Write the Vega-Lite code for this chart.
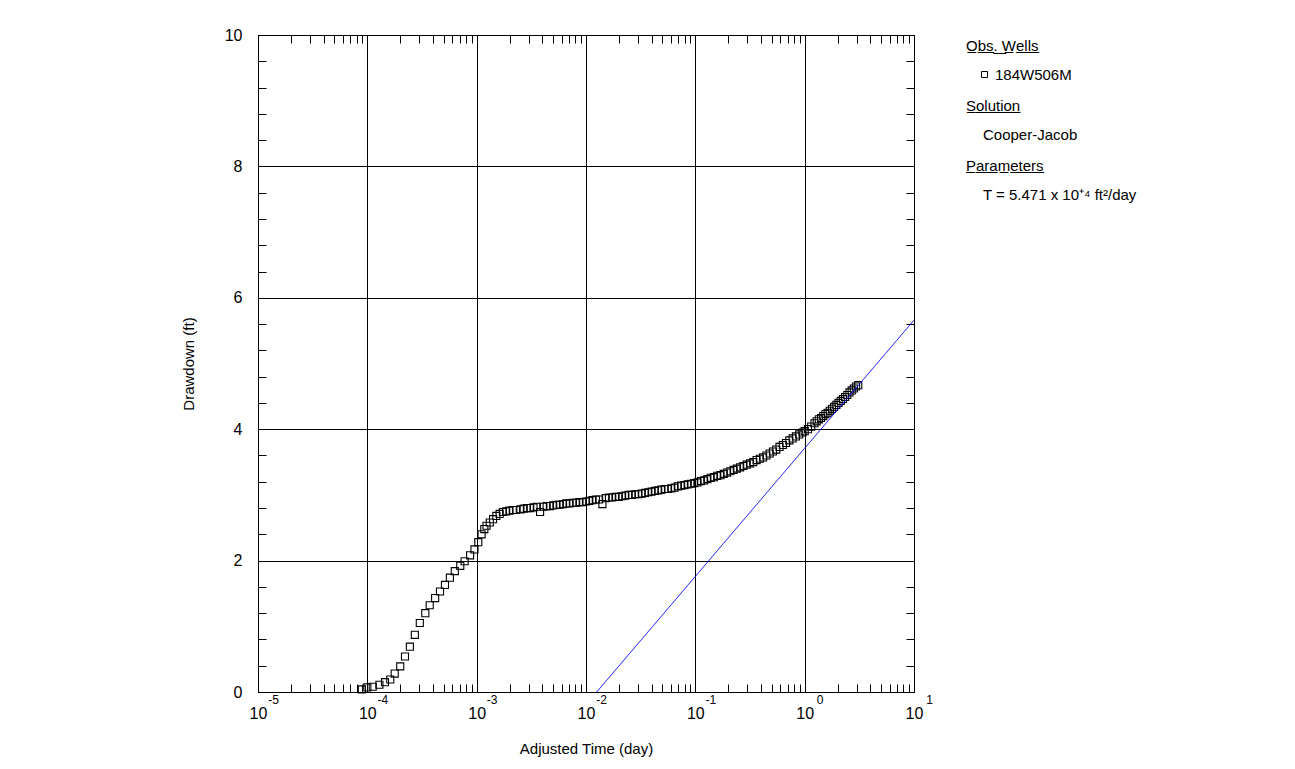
{
  "$schema": "https://vega.github.io/schema/vega-lite/v6.json",
  "width": 656,
  "height": 657,
  "autosize": {"type": "none"},
  "padding": {"left": 258, "top": 35, "right": 381, "bottom": 77},
  "background": "white",
  "config": {
    "font": "Liberation Sans",
    "view": {"stroke": "black", "strokeWidth": 1},
    "axis": {"labelFont": "Liberation Sans", "titleFont": "Liberation Sans", "labelColor": "black", "titleColor": "black", "titleFontWeight": "normal", "tickColor": "black", "tickWidth": 1, "domain": false},
    "legend": {
      "titleFont": "Liberation Sans", "labelFont": "Liberation Sans",
      "titleFontSize": 15, "labelFontSize": 15, "titleFontWeight": "normal",
      "titleColor": "black", "labelColor": "black",
      "offset": 47, "padding": 4, "titlePadding": 13
    }
  },
  "datasets": {
    "obs": [
      {"t": 8.91e-5, "s": 0.04}, {"t": 1.00e-4, "s": 0.07}, {"t": 1.12e-4, "s": 0.08}, {"t": 1.29e-4, "s": 0.11},
      {"t": 1.45e-4, "s": 0.15}, {"t": 1.62e-4, "s": 0.19}, {"t": 1.78e-4, "s": 0.28}, {"t": 2.00e-4, "s": 0.39},
      {"t": 2.21e-4, "s": 0.54}, {"t": 2.45e-4, "s": 0.69}, {"t": 2.72e-4, "s": 0.87}, {"t": 3.02e-4, "s": 1.05},
      {"t": 3.39e-4, "s": 1.20}, {"t": 3.72e-4, "s": 1.32}, {"t": 4.17e-4, "s": 1.43}, {"t": 4.62e-4, "s": 1.53},
      {"t": 5.13e-4, "s": 1.63}, {"t": 5.69e-4, "s": 1.74}, {"t": 6.31e-4, "s": 1.84}, {"t": 7.08e-4, "s": 1.92},
      {"t": 7.76e-4, "s": 1.99}, {"t": 8.71e-4, "s": 2.08}, {"t": 9.55e-4, "s": 2.17}, {"t": 1.035e-3, "s": 2.28},
      {"t": 1.109e-3, "s": 2.40}, {"t": 1.175e-3, "s": 2.48}, {"t": 1.230e-3, "s": 2.53}, {"t": 1.318e-3, "s": 2.58},
      {"t": 1.413e-3, "s": 2.63}, {"t": 1.514e-3, "s": 2.68}, {"t": 1.622e-3, "s": 2.71}, {"t": 1.738e-3, "s": 2.74},
      {"t": 1.862e-3, "s": 2.75}, {"t": 1.995e-3, "s": 2.76}, {"t": 2.138e-3, "s": 2.77}, {"t": 2.291e-3, "s": 2.77},
      {"t": 2.512e-3, "s": 2.78}, {"t": 2.692e-3, "s": 2.79}, {"t": 2.884e-3, "s": 2.80}, {"t": 3.090e-3, "s": 2.80},
      {"t": 3.311e-3, "s": 2.81}, {"t": 3.548e-3, "s": 2.82}, {"t": 3.802e-3, "s": 2.74}, {"t": 4.074e-3, "s": 2.82},
      {"t": 4.365e-3, "s": 2.83}, {"t": 4.677e-3, "s": 2.83}, {"t": 5.012e-3, "s": 2.84}, {"t": 5.370e-3, "s": 2.85},
      {"t": 5.754e-3, "s": 2.85}, {"t": 6.166e-3, "s": 2.86}, {"t": 6.607e-3, "s": 2.87}, {"t": 7.079e-3, "s": 2.87},
      {"t": 7.586e-3, "s": 2.88}, {"t": 8.128e-3, "s": 2.88}, {"t": 8.710e-3, "s": 2.89}, {"t": 9.333e-3, "s": 2.89},
      {"t": 0.0100, "s": 2.90}, {"t": 0.01072, "s": 2.91}, {"t": 0.01148, "s": 2.92}, {"t": 0.01230, "s": 2.93},
      {"t": 0.01318, "s": 2.93}, {"t": 0.01413, "s": 2.86}, {"t": 0.01514, "s": 2.95}, {"t": 0.01622, "s": 2.96},
      {"t": 0.01738, "s": 2.96}, {"t": 0.01862, "s": 2.97}, {"t": 0.01995, "s": 2.97}, {"t": 0.02138, "s": 2.98},
      {"t": 0.02291, "s": 2.99}, {"t": 0.02455, "s": 3.00}, {"t": 0.02630, "s": 3.00}, {"t": 0.02818, "s": 3.01},
      {"t": 0.03020, "s": 3.01}, {"t": 0.03236, "s": 3.02}, {"t": 0.03467, "s": 3.03}, {"t": 0.03715, "s": 3.04},
      {"t": 0.03981, "s": 3.05}, {"t": 0.04266, "s": 3.06}, {"t": 0.04571, "s": 3.07}, {"t": 0.04898, "s": 3.08},
      {"t": 0.05248, "s": 3.09}, {"t": 0.05623, "s": 3.09}, {"t": 0.06026, "s": 3.10}, {"t": 0.06457, "s": 3.11},
      {"t": 0.06918, "s": 3.13}, {"t": 0.07413, "s": 3.14}, {"t": 0.07943, "s": 3.15}, {"t": 0.08511, "s": 3.16},
      {"t": 0.09120, "s": 3.17}, {"t": 0.09772, "s": 3.18}, {"t": 0.1047, "s": 3.19}, {"t": 0.1122, "s": 3.21},
      {"t": 0.1202, "s": 3.22}, {"t": 0.1288, "s": 3.24}, {"t": 0.1380, "s": 3.26}, {"t": 0.1479, "s": 3.27},
      {"t": 0.1585, "s": 3.29}, {"t": 0.1698, "s": 3.30}, {"t": 0.1820, "s": 3.32}, {"t": 0.1950, "s": 3.34},
      {"t": 0.2089, "s": 3.36}, {"t": 0.2239, "s": 3.38}, {"t": 0.2399, "s": 3.40}, {"t": 0.2570, "s": 3.42},
      {"t": 0.2754, "s": 3.44}, {"t": 0.2951, "s": 3.46}, {"t": 0.3162, "s": 3.48}, {"t": 0.3388, "s": 3.50},
      {"t": 0.3631, "s": 3.53}, {"t": 0.3890, "s": 3.55}, {"t": 0.4169, "s": 3.57}, {"t": 0.4467, "s": 3.60},
      {"t": 0.4786, "s": 3.63}, {"t": 0.5129, "s": 3.66}, {"t": 0.5495, "s": 3.69}, {"t": 0.5888, "s": 3.73},
      {"t": 0.6310, "s": 3.76}, {"t": 0.6761, "s": 3.79}, {"t": 0.7244, "s": 3.83}, {"t": 0.7762, "s": 3.86},
      {"t": 0.8318, "s": 3.89}, {"t": 0.8913, "s": 3.92}, {"t": 0.9550, "s": 3.95}, {"t": 1.000, "s": 3.97},
      {"t": 1.072, "s": 4.00}, {"t": 1.148, "s": 4.04}, {"t": 1.230, "s": 4.09}, {"t": 1.288, "s": 4.12},
      {"t": 1.349, "s": 4.15}, {"t": 1.413, "s": 4.17}, {"t": 1.479, "s": 4.20}, {"t": 1.549, "s": 4.23},
      {"t": 1.622, "s": 4.25}, {"t": 1.698, "s": 4.28}, {"t": 1.778, "s": 4.31}, {"t": 1.862, "s": 4.34},
      {"t": 1.950, "s": 4.37}, {"t": 2.042, "s": 4.40}, {"t": 2.138, "s": 4.43}, {"t": 2.239, "s": 4.46},
      {"t": 2.344, "s": 4.49}, {"t": 2.455, "s": 4.52}, {"t": 2.570, "s": 4.56}, {"t": 2.692, "s": 4.59},
      {"t": 2.818, "s": 4.62}, {"t": 2.951, "s": 4.65}, {"t": 3.090, "s": 4.67}
    ],
    "fit": [
      {"t": 0.01253, "s": 0},
      {"t": 10, "s": 5.66}
    ]
  },
  "layer": [
    {
      "data": {"name": "obs"},
      "mark": {"type": "point", "shape": "square", "size": 50, "filled": false, "stroke": "black", "strokeWidth": 1.1, "opacity": 1},
      "encoding": {
        "x": {
          "field": "t", "type": "quantitative",
          "scale": {"type": "log", "domain": [0.00001, 10], "nice": false},
          "axis": {
            "orient": "top", "title": null, "labels": false, "grid": false, "tickSize": -8,
            "values": [1e-5,2e-5,3e-5,4e-5,5e-5,6e-5,7e-5,8e-5,9e-5,1e-4,2e-4,3e-4,4e-4,5e-4,6e-4,7e-4,8e-4,9e-4,1e-3,2e-3,3e-3,4e-3,5e-3,6e-3,7e-3,8e-3,9e-3,0.01,0.02,0.03,0.04,0.05,0.06,0.07,0.08,0.09,0.1,0.2,0.3,0.4,0.5,0.6,0.7,0.8,0.9,1,2,3,4,5,6,7,8,9,10]
          }
        },
        "y": {
          "field": "s", "type": "quantitative",
          "scale": {"domain": [0, 10], "nice": false, "zero": false},
          "axis": {
            "orient": "right", "title": null, "labels": false, "grid": false, "tickSize": -8,
            "values": [0,0.4,0.8,1.2,1.6,2,2.4,2.8,3.2,3.6,4,4.4,4.8,5.2,5.6,6,6.4,6.8,7.2,7.6,8,8.4,8.8,9.2,9.6,10]
          }
        },
        "shape": {
          "datum": "184W506M", "type": "nominal",
          "scale": {"range": ["square"]},
          "legend": {"title": "O̲b̲s̲.̲ ̲W̲e̲l̲l̲s̲", "symbolSize": 36, "symbolStrokeColor": "black", "symbolFillColor": "transparent", "symbolStrokeWidth": 1, "symbolOffset": 11, "labelOffset": 3}
        }
      }
    },
    {
      "data": {"name": "fit"},
      "mark": {"type": "line", "strokeWidth": 1, "clip": true},
      "encoding": {
        "x": {
          "field": "t", "type": "quantitative",
          "scale": {"type": "log", "domain": [0.00001, 10], "nice": false},
          "axis": {
            "orient": "bottom", "title": "Adjusted Time (day)", "titleFontSize": 15, "titlePadding": 20,
            "labelFontSize": 16, "labelPadding": 21, "labelOverlap": false, "labelFlush": false,
            "labelExpr": "abs(log(datum.value)/LN10 - round(log(datum.value)/LN10)) < 0.000001 ? '10' : ''",
            "grid": true, "gridColor": "black", "gridWidth": 1,
            "gridOpacity": {"condition": {"test": "abs(log(datum.value)/LN10 - round(log(datum.value)/LN10)) < 0.000001", "value": 1}, "value": 0},
            "tickSize": -8,
            "values": [1e-5,2e-5,3e-5,4e-5,5e-5,6e-5,7e-5,8e-5,9e-5,1e-4,2e-4,3e-4,4e-4,5e-4,6e-4,7e-4,8e-4,9e-4,1e-3,2e-3,3e-3,4e-3,5e-3,6e-3,7e-3,8e-3,9e-3,0.01,0.02,0.03,0.04,0.05,0.06,0.07,0.08,0.09,0.1,0.2,0.3,0.4,0.5,0.6,0.7,0.8,0.9,1,2,3,4,5,6,7,8,9,10]
          }
        },
        "y": {
          "field": "s", "type": "quantitative",
          "scale": {"domain": [0, 10], "nice": false, "zero": false},
          "axis": {
            "orient": "left", "title": "Drawdown (ft)", "titleFontSize": 15, "titlePadding": 28,
            "labelFontSize": 16, "labelPadding": 24, "labelOverlap": false, "labelFlush": false,
            "labelExpr": "datum.value % 2 === 0 ? format(datum.value, 'd') : ''",
            "grid": true, "gridColor": "black", "gridWidth": 1,
            "gridOpacity": {"condition": {"test": "datum.value % 2 === 0", "value": 1}, "value": 0},
            "tickSize": -8,
            "values": [0,0.4,0.8,1.2,1.6,2,2.4,2.8,3.2,3.6,4,4.4,4.8,5.2,5.6,6,6.4,6.8,7.2,7.6,8,8.4,8.8,9.2,9.6,10]
          }
        },
        "color": {
          "datum": "Cooper-Jacob", "type": "nominal",
          "scale": {"range": ["#0000ff"]},
          "legend": {"title": "S̲o̲l̲u̲t̲i̲o̲n̲", "symbolOpacity": 0, "symbolSize": 4, "symbolOffset": 0, "labelOffset": 2}
        },
        "strokeDash": {
          "datum": "T = 5.471 x 10⁺⁴ ft²/day", "type": "nominal",
          "scale": {"range": [[1, 0]]},
          "legend": {"title": "P̲a̲r̲a̲m̲e̲t̲e̲r̲s̲", "symbolOpacity": 0, "symbolSize": 4, "symbolOffset": 0, "labelOffset": 2}
        }
      }
    },
    {
      "data": {"name": "fit"},
      "mark": {"type": "line", "opacity": 0},
      "encoding": {
        "x": {
          "field": "t", "type": "quantitative",
          "scale": {"type": "log", "domain": [0.00001, 10], "nice": false},
          "axis": {
            "orient": "bottom", "title": null, "ticks": false, "grid": false,
            "labelFontSize": 12, "labelPadding": 2, "labelAlign": "center", "labelOffset": 15, "labelOverlap": false, "labelFlush": false,
            "values": [1e-5, 1e-4, 1e-3, 0.01, 0.1, 1, 10],
            "labelExpr": "'' + round(log(datum.value)/LN10)"
          }
        },
        "y": {"field": "s", "type": "quantitative", "axis": null}
      }
    }
  ],
  "resolve": {"axis": {"x": "independent", "y": "independent"}}
}
